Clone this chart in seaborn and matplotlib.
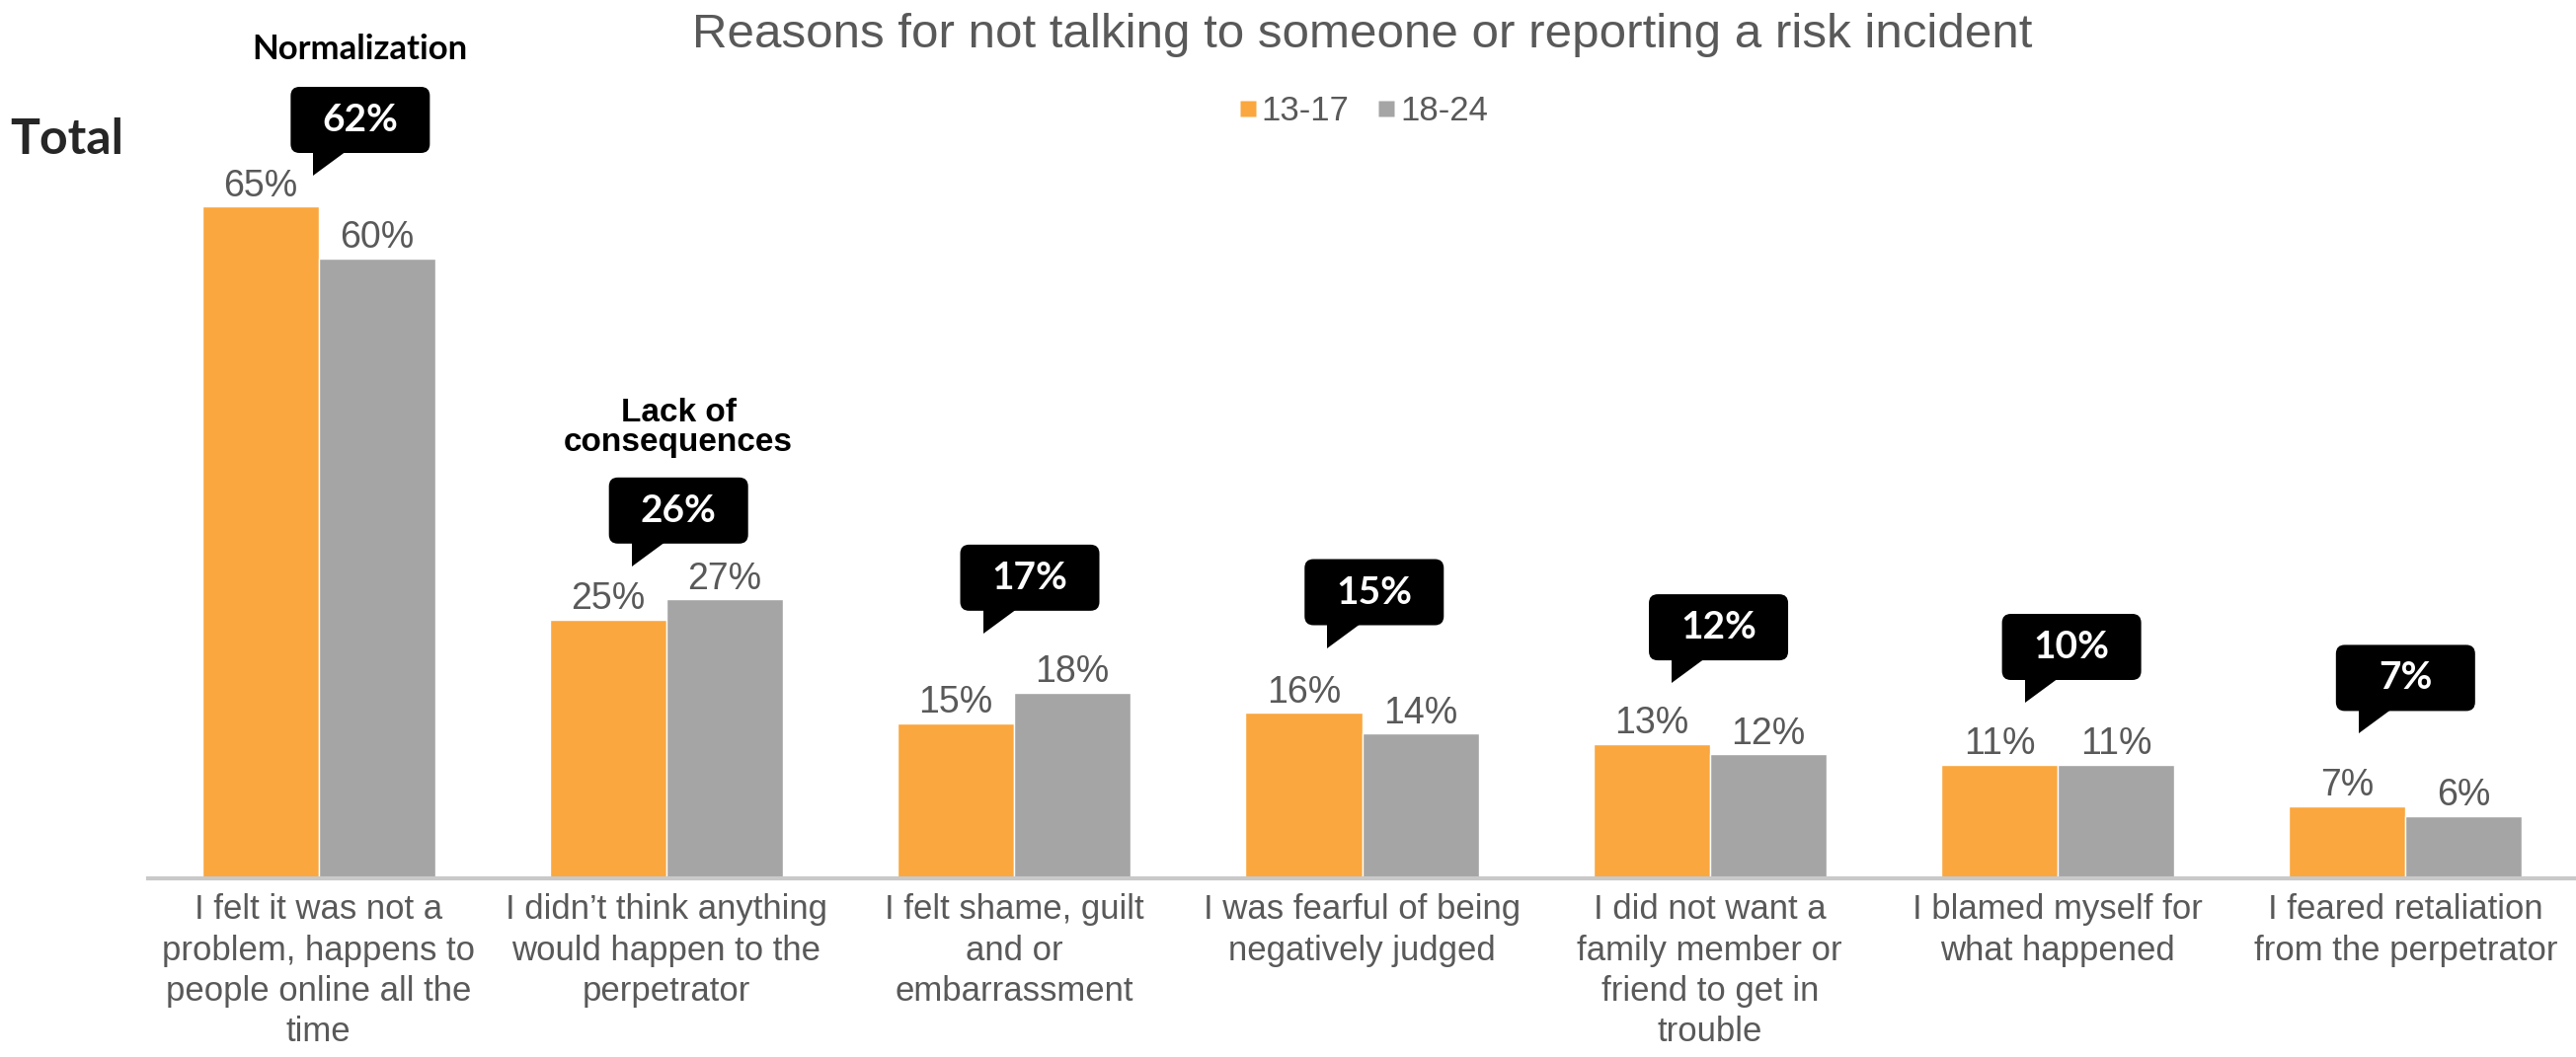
import matplotlib
matplotlib.use("Agg")
import matplotlib.pyplot as plt
import pandas as pd
import seaborn as sns
from matplotlib.lines import Line2D
from matplotlib.patches import FancyBboxPatch, Polygon
from matplotlib.transforms import ScaledTranslation

# ---- data -------------------------------------------------------------
reasons = [
    "I felt it was not a\nproblem, happens to\npeople online all the\ntime",
    "I didn\u2019t think anything\nwould happen to the\nperpetrator",
    "I felt shame, guilt\nand or\nembarrassment",
    "I was fearful of being\nnegatively judged",
    "I did not want a\nfamily member or\nfriend to get in\ntrouble",
    "I blamed myself for\nwhat happened",
    "I feared retaliation\nfrom the perpetrator",
]
age_groups = ["13-17", "18-24"]
pct_13_17 = [65, 25, 15, 16, 13, 11, 7]
pct_18_24 = [60, 27, 18, 14, 12, 11, 6]
pct_total = [62, 26, 17, 15, 12, 10, 7]
themes = ["Normalization", "Lack of\nconsequences", "", "", "", "", ""]

title = "Reasons for not talking to someone or reporting a risk incident"

# ---- style ------------------------------------------------------------
sns.set_style("white")
plt.rcParams["font.family"] = ["Liberation Sans", "DejaVu Sans"]

ORANGE = "#FAA73F"
GREY = "#A5A5A5"
TEXT_GREY = "#595959"
LATO = ["Lato", "DejaVu Sans"]

df = pd.DataFrame({
    "reason": reasons * 2,
    "age": [age_groups[0]] * len(reasons) + [age_groups[1]] * len(reasons),
    "pct": pct_13_17 + pct_18_24,
})

fig = plt.figure(figsize=(26.09, 10.71), dpi=100)
ax = fig.add_axes([0.0575, 0.169, 0.9425, 0.831])

sns.barplot(data=df, x="reason", y="pct", hue="age", hue_order=age_groups,
            order=reasons, palette=[ORANGE, GREY], width=0.67,
            saturation=1, errorbar=None, legend=False, ax=ax)

for container in ax.containers:
    ax.bar_label(container, fmt="{:.0f}%", padding=2, fontsize=27,
                 color=TEXT_GREY)

ax.set_xlim(-0.49, 6.49)
ax.set_ylim(0, 85)
ax.set_xlabel("")
ax.set_ylabel("")
ax.set_yticks([])
ax.tick_params(axis="x", length=0, pad=11, labelsize=25,
               labelcolor=TEXT_GREY)
for lbl in ax.get_xticklabels():
    lbl.set_linespacing(1.32)
for side in ("top", "right", "left"):
    ax.spines[side].set_visible(False)
ax.spines["bottom"].set_color("#C9C9C9")
ax.spines["bottom"].set_linewidth(3)

# ---- speech-bubble callouts with the overall percentage ---------------
callout_lift = [6.0, 4.2, 6.7, 7.3, 6.9, 7.0, 7.0]
callout_dx = [-0.015, -0.10, -0.09, -0.10, -0.11, -0.095, -0.135]
box_w, box_h, box_left, tail_h, tail_w, rad = 1.41, 0.67, -0.23, 0.23, 0.34, 0.09

for i, tot in enumerate(pct_total):
    tip_x = i + callout_dx[i]
    tip_y = tot + callout_lift[i]
    trans = fig.dpi_scale_trans + ScaledTranslation(tip_x, tip_y, ax.transData)
    box = FancyBboxPatch((box_left + rad, tail_h + rad),
                         box_w - 2 * rad, box_h - 2 * rad,
                         boxstyle=f"round,pad={rad},rounding_size={rad}",
                         transform=trans, facecolor="black",
                         edgecolor="none", clip_on=False)
    ax.add_patch(box)
    tail = Polygon([(0, 0), (0, tail_h + 0.02), (tail_w, tail_h + 0.02)],
                   closed=True, transform=trans, facecolor="black",
                   edgecolor="none", clip_on=False)
    ax.add_patch(tail)
    cx = box_left + box_w / 2
    ax.text(cx, tail_h + box_h / 2, f"{tot}%", transform=trans,
            ha="center", va="center", color="white", fontsize=28,
            fontweight="bold", family=LATO)
    if i == 0:
        ax.text(cx, tail_h + box_h + 0.22, themes[i], transform=trans,
                ha="center", va="bottom", color="black", fontsize=25,
                fontweight="bold", family=LATO)
    elif themes[i]:
        ax.text(cx, tail_h + box_h + 0.2, themes[i], transform=trans,
                ha="center", va="bottom", color="black", fontsize=24,
                fontweight="bold", linespacing=0.95)

# ---- title, legend, side label ---------------------------------------
fig.text(0.529, 0.967, title, ha="center", va="center", fontsize=35.5,
         color=TEXT_GREY)

handles = [Line2D([], [], marker="s", linestyle="none", markersize=11,
                  markerfacecolor=c, markeredgecolor="none")
           for c in (ORANGE, GREY)]
fig.legend(handles, age_groups, loc="center", bbox_to_anchor=(0.529, 0.895),
           ncol=2, frameon=False, fontsize=25, labelcolor=TEXT_GREY,
           handletextpad=0.1, columnspacing=0.8, handlelength=0.6)

fig.text(0.004, 0.868, "Total", ha="left", va="center", fontsize=36,
         fontweight="bold", family=LATO)

fig.savefig("out.png", dpi=100)
